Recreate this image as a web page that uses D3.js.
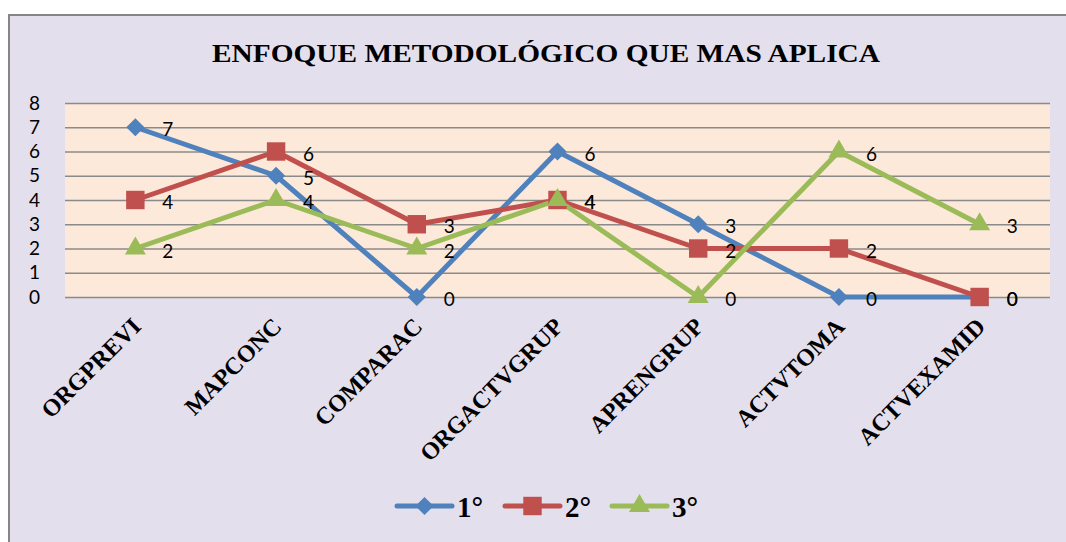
<!DOCTYPE html>
<html>
<head>
<meta charset="utf-8">
<script src="https://cdn.jsdelivr.net/npm/d3@7"></script>
<style>
  body { margin: 0; background: #fff; }
</style>
</head>
<body>
<script>
let categories = ['ORGPREVI','MAPCONC','COMPARAC','ORGACTVGRUP','APRENGRUP','ACTVTOMA','ACTVEXAMID'];
let serie1 = [7,5,0,6,3,0,0];
let serie2 = [4,6,3,4,2,2,0];
let serie3 = [2,4,2,4,0,6,3];
let seriesNames = ['1°','2°','3°'];
let yTicks = [0,1,2,3,4,5,6,7,8];

let w = 1066, h = 542;
let plotLeft = 65, plotRight = 1050, plotTop = 103, plotBottom = 297;

let colors = ['#4f81bd','#c0504d','#9bbb59'];
let serifFont = '"Liberation Serif", "Times New Roman", Times, serif';
let sansFont = 'Lato, "Open Sans", sans-serif';

// excel style markers: diamond is a square turned 45 deg
let markers = [
    {type: d3.symbolSquare, size: 165, rot: 45},
    {type: d3.symbolSquare, size: 340, rot: 0},
    {type: d3.symbolTriangle, size: 190, rot: 0}
];

let svg = d3.select('body').append('svg')
    .attr('width', w)
    .attr('height', h);

// frame
svg.append('rect')
    .attr('x', 9).attr('y', 15)
    .attr('width', 1090).attr('height', 560)
    .attr('fill', '#e4dfec')
    .attr('stroke', '#868686')
    .attr('stroke-width', 2);

svg.append('text')
    .text('ENFOQUE METODOLÓGICO QUE MAS APLICA')
    .attr('x', 212).attr('y', 62)
    .attr('textLength', 668)
    .attr('lengthAdjust', 'spacingAndGlyphs')
    .style('font-family', serifFont)
    .style('font-weight', 'bold')
    .style('font-size', '25px');

let x = d3.scaleBand().domain(categories).range([plotLeft, plotRight]);
let y = d3.scaleLinear().domain([0, 8]).range([plotBottom, plotTop]);
let cx = d => x(d) + x.bandwidth() / 2;

svg.append('rect')
    .attr('x', plotLeft).attr('y', plotTop)
    .attr('width', plotRight - plotLeft).attr('height', plotBottom - plotTop)
    .attr('fill', '#fde9d9');

// gridlines
svg.append('g')
    .attr('transform', `translate(${plotLeft},0)`)
    .call(d3.axisLeft(y).tickValues(yTicks).tickSize(-(plotRight - plotLeft)).tickFormat(''))
    .call(g => g.select('.domain').remove())
    .selectAll('line')
    .attr('stroke', '#8a8a8a')
    .attr('stroke-width', 1.6);

// y labels
svg.append('g')
    .attr('transform', `translate(${plotLeft},0)`)
    .call(d3.axisLeft(y).tickValues(yTicks).tickSize(0).tickPadding(25))
    .call(g => g.select('.domain').remove())
    .selectAll('text')
    .style('font-family', sansFont)
    .style('font-size', '19px')
    .attr('fill', '#000');

// x labels
svg.append('g')
    .selectAll('text')
    .data(categories)
    .enter()
    .append('text')
    .text(d => d)
    .attr('text-anchor', 'end')
    .attr('transform', d => `translate(${cx(d) + 7},${plotBottom + 31}) rotate(-45)`)
    .style('font-family', serifFont)
    .style('font-weight', 'bold')
    .style('font-size', '24px');

let allSeries = [serie1, serie2, serie3];
let line = d3.line()
    .x((d, i) => cx(categories[i]))
    .y(d => y(d));

allSeries.forEach((s, k) => {
    svg.append('path')
        .datum(s)
        .attr('d', line)
        .attr('fill', 'none')
        .attr('stroke', colors[k])
        .attr('stroke-width', 5)
        .attr('stroke-linejoin', 'round');
});

allSeries.forEach((s, k) => {
    svg.append('g').selectAll('path')
        .data(s)
        .enter()
        .append('path')
        .attr('d', d3.symbol().type(markers[k].type).size(markers[k].size))
        .attr('transform', (d, i) => `translate(${cx(categories[i])},${y(d)}) rotate(${markers[k].rot})`)
        .attr('fill', colors[k]);
});

allSeries.forEach((s, k) => {
    svg.append('g').selectAll('text')
        .data(s)
        .enter()
        .append('text')
        .text(d => d)
        .attr('x', (d, i) => cx(categories[i]) + 27)
        .attr('y', d => y(d) + 9)
        .style('font-family', sansFont)
        .style('font-size', '19px');
});

// legend
let legendX = [397, 505, 612];
let lg = svg.append('g');
seriesNames.forEach((n, k) => {
    lg.append('line')
        .attr('x1', legendX[k]).attr('x2', legendX[k] + 55)
        .attr('y1', 506).attr('y2', 506)
        .attr('stroke', colors[k])
        .attr('stroke-width', 5)
        .attr('stroke-linecap', 'round');
    lg.append('path')
        .attr('d', d3.symbol().type(markers[k].type).size(markers[k].size))
        .attr('transform', `translate(${legendX[k] + 27.5},506) rotate(${markers[k].rot})`)
        .attr('fill', colors[k]);
    lg.append('text')
        .text(n)
        .attr('x', legendX[k] + 60).attr('y', 517)
        .style('font-family', serifFont)
        .style('font-weight', 'bold')
        .style('font-size', '29px');
});
</script>
</body>
</html>
